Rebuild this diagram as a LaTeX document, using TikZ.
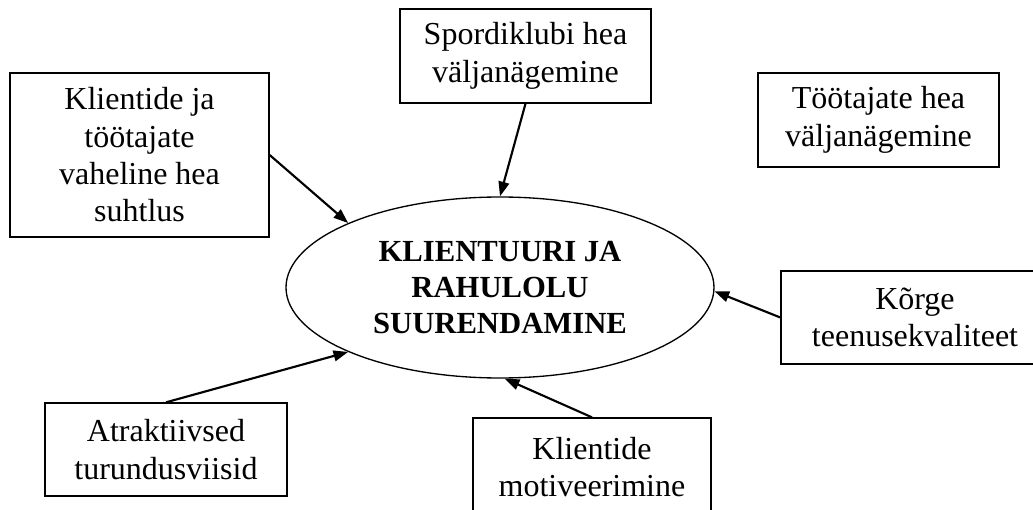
\documentclass[tikz,border=0pt]{standalone}
\usepackage{fontspec}
\setmainfont{Liberation Serif}
\usetikzlibrary{shapes.geometric,arrows.meta}
\begin{document}
\begin{tikzpicture}[x=0.75pt,y=-0.75pt,
  box/.style={draw,line width=1pt,inner sep=0pt,align=center,
    font=\fontsize{24}{28}\selectfont},
  hub/.style={draw,ellipse,line width=1pt,inner sep=0pt,align=center,
    minimum width=321pt,minimum height=135.75pt,
    font=\fontsize{23}{27}\selectfont\bfseries},
  link/.style={line width=1.6pt,-{Triangle[length=11pt,width=8pt]}}]
\useasboundingbox (0,0) rectangle (1033,510);
\clip (0,0) rectangle (1033,510);

% central goal
\node[hub] (goal) at (500,287.5) {KLIENTUURI JA\\RAHULOLU\\SUURENDAMINE};

% contributing factors
\node[box,minimum width=194.25pt,minimum height=123pt] (comm) at (139.5,155)
  {Klientide ja\\töötajate\\vaheline hea\\suhtlus};
\node[box,minimum width=188.25pt,minimum height=70.5pt] (club) at (525.5,56)
  {Spordiklubi hea\\väljanägemine};
\node[box,minimum width=180.75pt,minimum height=70.5pt] (staff) at (878.5,120)
  {Töötajate hea\\väljanägemine};
\node[box,minimum width=201pt,minimum height=69.75pt] (quality) at (915,317.5)
  {Kõrge\\teenusekvaliteet};
\node[box,minimum width=181.5pt,minimum height=69.75pt] (market) at (166,449.5)
  {Atraktiivsed\\turundusviisid};
\node[box,minimum width=178.5pt,minimum height=73.5pt] (motiv) at (592,467)
  {Klientide\\motiveerimine};

% arrows into the goal
\draw[link] (comm.east) -- (goal.157);
\draw[link] (club.south) -- (goal.north);
\draw[link] (quality.west) -- (goal.-1);
\draw[link] (market.north) -- (goal.203);
\draw[link] (motiv.north) -- (goal.-87);
\end{tikzpicture}
\end{document}
